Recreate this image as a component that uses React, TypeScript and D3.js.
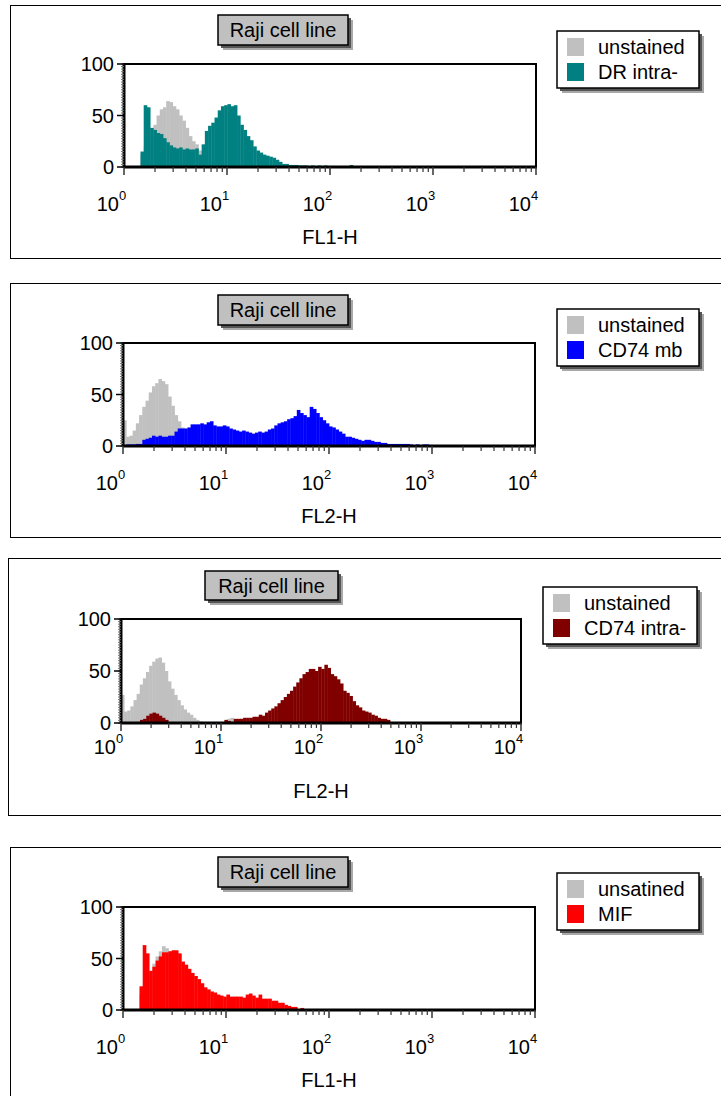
import React from 'react';
import * as d3 from 'd3';

// each histogram value covers 1/32 of a decade on the log axis
const BIN = 1 / 32;

const titleText = 'Raji cell line';
const decadeLabels = ['0', '1', '2', '3', '4'];
const yTickLabels = [0, 50, 100];

// panel 1 - FL1-H
const p1Legend = ['unstained', 'DR intra-'];
const p1Axis = 'FL1-H';
const p1GrayStart = 0.16;
const p1Gray = [12, 20, 20, 30, 41, 50, 56, 58, 64, 63, 59, 56, 50, 45, 38, 30, 25, 22, 16, 8];
const p1ColorStart = 0.16;
const p1Color = [15, 60, 58, 38, 36, 33, 32, 28, 24, 21, 19, 18, 19, 17, 18, 17, 17, 18, 12, 22,
  35, 40, 43, 48, 55, 59, 60, 61, 59, 60, 50, 41, 36, 30, 26, 20, 16, 14, 12, 11,
  10, 9, 7, 5, 3, 3, 2, 2, 2, 1.5, 1.5, 1.5, 1, 1.5, 1, 1.5, 1, 1.5, 1, 1,
  0.5, 0.5, 0, 0, 0, 2];

// panel 2 - FL2-H
const p2Legend = ['unstained', 'CD74 mb'];
const p2Axis = 'FL2-H';
const p2GrayStart = 0;
const p2Gray = [25, 9, 10, 15, 22, 30, 38, 44, 52, 58, 61, 65, 63, 60, 48, 39, 30, 24, 18, 12];
const p2ColorStart = 0;
const p2Color = [1, 1.5, 1.5, 1.5, 2, 2, 6, 7, 8, 10, 9, 10, 9, 9, 10, 10, 14, 17, 17, 17,
  18, 21, 21, 21, 22, 21, 23, 24, 20, 19, 19, 20, 19, 17, 16, 15, 14, 15, 14, 13,
  12, 13, 14, 13, 14, 16, 17, 20, 22, 23, 24, 26, 27, 29, 35, 32, 30, 28, 38, 36,
  32, 28, 25, 22, 19, 18, 16, 14, 12, 9, 9, 8, 7, 6, 5, 6, 6, 5, 4, 4,
  3, 3, 2, 2, 2, 2, 2, 2, 2, 1.5, 1, 1.5, 0.5, 1.5, 1.5, 0.5];

// panel 3 - FL2-H
const p3Legend = ['unstained', 'CD74 intra-'];
const p3Axis = 'FL2-H';
const p3GrayStart = 0;
const p3Gray = [27, 11, 12, 16, 22, 28, 37, 43, 49, 55, 59, 62, 63, 58, 50, 40, 33, 27, 22, 17,
  13, 10, 8, 5, 3, 1.5, 1, 0.5, 0.5, 0, 0, 0, 0, 0, 4, 5, 3, 2, 4];
const p3ColorStart = 0.19;
const p3Color = [3, 4, 7, 9, 10, 9, 7, 5, 3, 0, 0, 0, 0, 0, 0, 0, 0, 0, 0, 0,
  0, 0, 0, 0, 0, 0, 0, 3, 2, 0, 4, 4, 4, 5, 5, 5, 6, 6, 8, 7,
  10, 12, 14, 16, 19, 22, 25, 28, 31, 35, 39, 43, 47, 49, 52, 52, 50, 54, 52, 56,
  53, 47, 45, 42, 38, 31, 29, 26, 21, 17, 15, 12, 11, 10, 8, 7, 5, 4, 4, 3];

// panel 4 - FL1-H
const p4Legend = ['unsatined', 'MIF'];
const p4Axis = 'FL1-H';
const p4GrayStart = 0.16;
const p4Gray = [15, 20, 22, 35, 45, 52, 57, 62, 60, 57, 52, 46, 40, 34, 28, 22, 16, 10, 5];
const p4ColorStart = 0.16;
const p4Color = [23, 63, 55, 38, 42, 48, 52, 56, 56, 57, 58, 58, 55, 47, 44, 40, 36, 33, 30, 26,
  22, 20, 18, 17, 15, 14, 13, 15, 13, 13, 13, 13, 12, 15, 16, 14, 12, 15, 11, 11,
  11, 9, 9, 7, 7, 5, 4, 3, 3, 0, 2];

const GRAY = '#c0c0c0';
const FONT = '"Liberation Sans", Arial, sans-serif';

const panels = [
  { legend: p1Legend, axis: p1Axis, grayStart: p1GrayStart, gray: p1Gray, colorStart: p1ColorStart, color: p1Color, fill: '#008080' },
  { legend: p2Legend, axis: p2Axis, grayStart: p2GrayStart, gray: p2Gray, colorStart: p2ColorStart, color: p2Color, fill: '#0000ff' },
  { legend: p3Legend, axis: p3Axis, grayStart: p3GrayStart, gray: p3Gray, colorStart: p3ColorStart, color: p3Color, fill: '#800000' },
  { legend: p4Legend, axis: p4Axis, grayStart: p4GrayStart, gray: p4Gray, colorStart: p4ColorStart, color: p4Color, fill: '#ff0000' },
];

// page layout of each panel
const layouts = [
  { frameX: 10, frameY: 5, frameH: 253, plotX: 124, dec: 103, plotTop: 64, plotH: 103, titleX: 218, titleY: 15, titleW: 130, titleH: 30, legX: 557, legY: 31, legW: 142, tickDy: 44, axisDy: 77 },
  { frameX: 10, frameY: 283, frameH: 254, plotX: 123, dec: 103, plotTop: 343, plotH: 103, titleX: 218, titleY: 295, titleW: 130, titleH: 30, legX: 557, legY: 309, legW: 142, tickDy: 44, axisDy: 77 },
  { frameX: 8, frameY: 558, frameH: 257, plotX: 121, dec: 100, plotTop: 619, plotH: 104, titleX: 205, titleY: 571, titleW: 133, titleH: 29, legX: 543, legY: 587, legW: 154, tickDy: 31, axisDy: 75 },
  { frameX: 10, frameY: 847, frameH: 300, plotX: 123, dec: 103, plotTop: 907, plotH: 103, titleX: 218, titleY: 857, titleW: 130, titleH: 30, legX: 557, legY: 873, legW: 142, tickDy: 44, axisDy: 77 },
];

function Panel({ p, lay }: any) {
  const x = d3.scaleLog().domain([1, 1e4]).range([lay.plotX, lay.plotX + 4 * lay.dec]);
  const y = d3.scaleLinear().domain([0, 100]).range([lay.plotTop + lay.plotH, lay.plotTop]);
  const y0 = y(0);

  const bars = (start: number, vals: number[], fill: string, key: string) =>
    vals.map((v, i) => {
      if (v <= 0) return null;
      const a = x(Math.pow(10, start + i * BIN));
      const b = x(Math.pow(10, start + (i + 1) * BIN));
      return <rect key={key + i} x={a} y={y(v)} width={b - a + 0.4} height={y0 - y(v)} fill={fill} />;
    });

  const xt = x.ticks();
  const plotR = x(1e4);

  return (
    <g>
      {/* outer frame */}
      <rect x={lay.frameX + 0.5} y={lay.frameY + 0.5} width={730} height={lay.frameH} fill="none" stroke="#000" strokeWidth={1} />

      {/* title box */}
      <rect x={lay.titleX + 5} y={lay.titleY + 5} width={lay.titleW} height={lay.titleH} fill="#a8a8a8" />
      <rect x={lay.titleX + 3} y={lay.titleY + 3} width={lay.titleW} height={lay.titleH} fill="#555" />
      <rect x={lay.titleX} y={lay.titleY} width={lay.titleW} height={lay.titleH} fill={GRAY} stroke="#000" strokeWidth={1.5} />
      <text x={lay.titleX + lay.titleW / 2} y={lay.titleY + lay.titleH / 2 + 7} textAnchor="middle" fontSize={20} fontFamily={FONT}>{titleText}</text>

      {/* legend */}
      <rect x={lay.legX + 5} y={lay.legY + 5} width={lay.legW} height={57} fill="#a8a8a8" />
      <rect x={lay.legX + 3} y={lay.legY + 3} width={lay.legW} height={57} fill="#555" />
      <rect x={lay.legX} y={lay.legY} width={lay.legW} height={57} fill="#fff" stroke="#000" strokeWidth={1.5} />
      {p.legend.map((name: string, i: number) => (
        <g key={name}>
          <rect x={lay.legX + 10} y={lay.legY + 7 + i * 25} width={17} height={18} fill={i === 0 ? GRAY : p.fill} />
          <text x={lay.legX + 41} y={lay.legY + 23 + i * 25} fontSize={20} fontFamily={FONT}>{name}</text>
        </g>
      ))}

      {/* histograms */}
      {bars(p.grayStart, p.gray, GRAY, 'g')}
      {bars(p.colorStart, p.color, p.fill, 'c')}

      {/* plot box */}
      <rect x={lay.plotX} y={lay.plotTop} width={plotR - lay.plotX} height={lay.plotH} fill="none" stroke="#000" strokeWidth={2} />
      <line x1={lay.plotX} x2={plotR + 1} y1={y0} y2={y0} stroke="#000" strokeWidth={3} />
      <line x1={lay.plotX} x2={lay.plotX} y1={lay.plotTop - 1} y2={y0 + 1} stroke="#000" strokeWidth={3} />

      {/* y axis */}
      {d3.range(0, 100.1, 2.5).map((t) => (
        <line key={'ym' + t} x1={lay.plotX - 3} x2={lay.plotX} y1={y(t)} y2={y(t)} stroke="#777" strokeWidth={1} />
      ))}
      {yTickLabels.map((t) => (
        <g key={'yt' + t}>
          <line x1={lay.plotX - 7} x2={lay.plotX} y1={y(t)} y2={y(t)} stroke="#000" strokeWidth={1.5} />
          <text x={lay.plotX - 10} y={y(t) + 7} textAnchor="end" fontSize={20} fontFamily={FONT}>{t}</text>
        </g>
      ))}

      {/* x axis */}
      {xt.map((t, i) => {
        const major = Math.abs(Math.log10(t) - Math.round(Math.log10(t))) < 1e-6;
        return <line key={'xt' + i} x1={x(t)} x2={x(t)} y1={y0} y2={y0 + (major ? 8 : 5)} stroke="#333" strokeWidth={major ? 1.5 : 1.2} />;
      })}
      {decadeLabels.map((e, i) => {
        const tx = x(Math.pow(10, i));
        return (
          <g key={'xl' + e}>
            <text x={tx - 5} y={y0 + lay.tickDy} textAnchor="end" fontSize={20} fontFamily={FONT}>10</text>
            <text x={tx - 5} y={y0 + lay.tickDy - 11} fontSize={13} fontFamily={FONT}>{e}</text>
          </g>
        );
      })}
      <text x={(lay.plotX + plotR) / 2} y={y0 + lay.axisDy} textAnchor="middle" fontSize={20} fontFamily={FONT}>{p.axis}</text>
    </g>
  );
}

export default function App() {
  return (
    <svg width={721} height={1096} style={{ position: 'absolute', left: 0, top: 0, background: '#fff' }}>
      {panels.map((p, i) => (
        <Panel key={i} p={p} lay={layouts[i]} />
      ))}
    </svg>
  );
}
